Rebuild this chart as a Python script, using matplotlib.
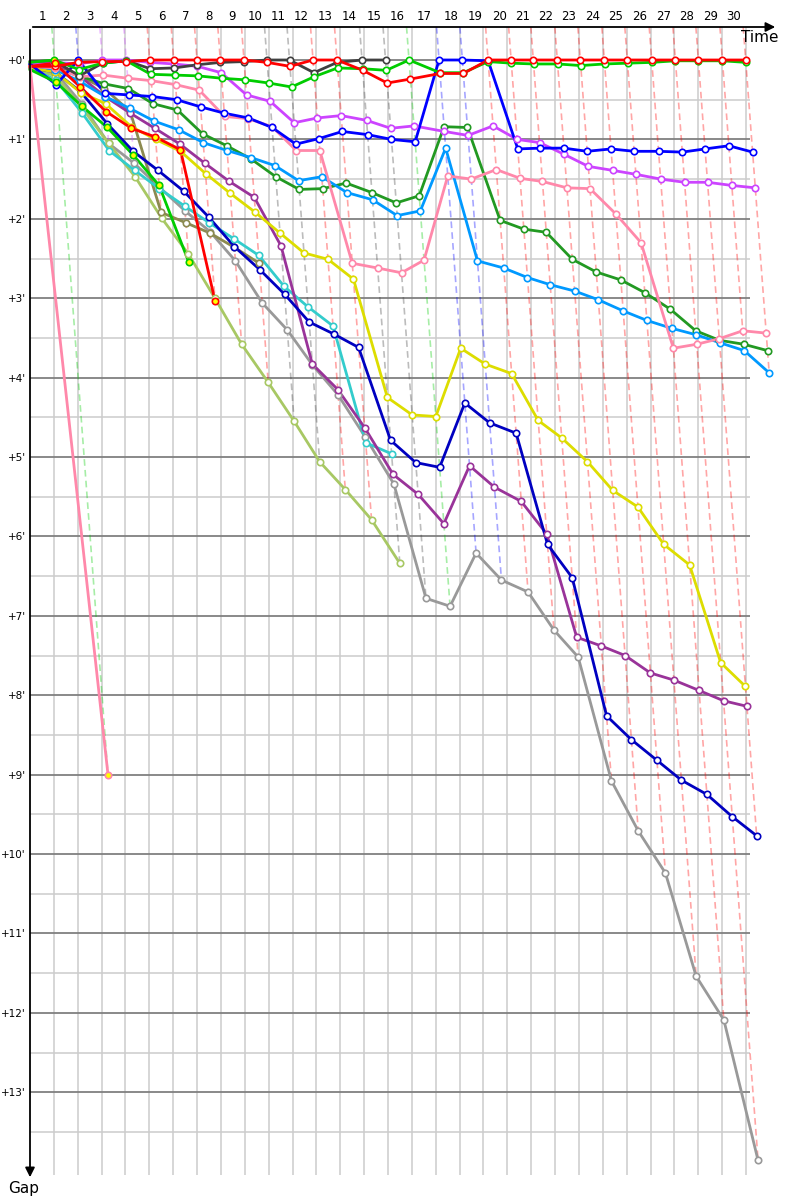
import matplotlib
matplotlib.use("Agg")
import matplotlib.pyplot as plt
import numpy as np

# leader's lap completion time (minutes), laps 1..30
lap_times = [4.07, 8.09, 12.12, 16.14, 20.06, 24.08, 27.99, 31.89, 35.86, 39.72,
             43.49, 47.43, 51.45, 55.64, 59.58, 63.52, 68.55, 72.46, 76.77, 80.63,
             84.35, 88.37, 92.23, 96.25, 100.10, 104.19, 108.16, 112.01, 116.04, 119.94]
lap_labels = [str(i) for i in range(1, 31)]

# gap to leader (minutes): index 0 = start, index k = after lap k
red = [0.08, 0.08, 0.03, 0.02, 0.02, 0, 0, 0, 0, 0, 0.03, 0.08, 0, 0, 0.13, 0.29,
       0.24, 0.17, 0.17, 0, 0, 0, 0, 0, 0, 0, 0, 0, 0, 0, 0]
green = [0.03, 0, 0.12, 0.04, 0.01, 0.18, 0.19, 0.2, 0.23, 0.25, 0.29, 0.34, 0.21,
         0.1, 0.11, 0.13, 0, 0.16, 0.16, 0.02, 0.04, 0.05, 0.05, 0.07, 0.05, 0.04,
         0.03, 0.01, 0.01, 0.01, 0.03]
black = [0.02, 0.01, 0.2, 0.04, 0.01, 0.11, 0.1, 0.06, 0.03, 0.02, 0, 0, 0.16, 0.03, 0, 0]
blue = [0.05, 0.31, 0, 0.42, 0.44, 0.46, 0.5, 0.59, 0.67, 0.73, 0.85, 1.06, 0.99, 0.9,
        0.94, 1.0, 1.03, 0, 0, 0.01, 1.12, 1.11, 1.11, 1.15, 1.12, 1.15, 1.15, 1.16,
        1.12, 1.08, 1.16]
violet = [0.05, 0.03, 0.05, 0, 0, 0.03, 0.05, 0.08, 0.16, 0.44, 0.52, 0.79, 0.73, 0.70,
          0.76, 0.86, 0.83, 0.9, 0.95, 0.83, 1.0, 1.04, 1.19, 1.34, 1.39, 1.44, 1.5,
          1.54, 1.54, 1.58, 1.61]
pink = [0.08, 0.1, 0.21, 0.19, 0.23, 0.26, 0.31, 0.38, 0.71, 0.74, 0.84, 1.14, 1.14,
        2.56, 2.62, 2.68, 2.52, 1.46, 1.5, 1.38, 1.49, 1.53, 1.61, 1.62, 1.94, 2.3,
        3.63, 3.58, 3.51, 3.41, 3.44]
sky = [0.06, 0.12, 0.27, 0.46, 0.61, 0.77, 0.88, 1.04, 1.14, 1.23, 1.33, 1.52, 1.47,
       1.67, 1.76, 1.96, 1.9, 1.11, 2.53, 2.62, 2.74, 2.83, 2.91, 3.02, 3.16, 3.28,
       3.38, 3.46, 3.56, 3.66, 3.94]
dkgreen = [0.07, 0.1, 0.2, 0.3, 0.36, 0.55, 0.63, 0.93, 1.08, 1.25, 1.47, 1.63, 1.62,
           1.55, 1.67, 1.8, 1.71, 0.84, 0.85, 2.02, 2.13, 2.17, 2.51, 2.67, 2.77, 2.93,
           3.14, 3.41, 3.53, 3.58, 3.66]
yellow = [0.1, 0.15, 0.41, 0.55, 0.84, 1.0, 1.15, 1.43, 1.68, 1.92, 2.18, 2.43, 2.51,
          2.76, 4.25, 4.47, 4.49, 3.63, 3.83, 3.95, 4.54, 4.76, 5.06, 5.42, 5.63, 6.1,
          6.36, 7.59, 7.89]
navy = [0.1, 0.15, 0.4, 0.8, 1.15, 1.39, 1.65, 1.98, 2.35, 2.64, 2.95, 3.3, 3.45, 3.62,
        4.79, 5.07, 5.13, 4.32, 4.57, 4.7, 6.1, 6.52, 8.26, 8.56, 8.82, 9.07, 9.25,
        9.53, 9.77]
purple = [0.05, 0.05, 0.2, 0.46, 0.67, 0.86, 1.06, 1.3, 1.53, 1.73, 2.34, 3.83, 4.15,
          4.63, 5.22, 5.47, 5.84, 5.11, 5.38, 5.56, 5.97, 7.27, 7.38, 7.5, 7.72, 7.81,
          7.94, 8.07, 8.14]
gray = [0.1, 0.15, 0.55, 1.05, 1.3, 1.6, 1.9, 2.16, 2.53, 3.06, 3.4, 3.84, 4.22, 4.75,
        5.34, 6.78, 6.88, 6.21, 6.55, 6.70, 7.18, 7.52, 9.08, 9.71, 10.24, 11.54,
        12.09, 13.86]
cyan = [0.1, 0.25, 0.67, 1.14, 1.39, 1.62, 1.84, 2.05, 2.25, 2.46, 2.85, 3.11, 3.35,
        4.82, 4.96]
olive = [0.1, 0.1, 0.2, 0.36, 0.65, 1.92, 2.05, 2.18, 2.36, 2.56]
lime = [0.1, 0.2, 0.6, 1.05, 1.47, 1.99, 2.44, 3.0, 3.58, 4.06, 4.55, 5.06, 5.41,
        5.79, 6.34]
green_out = [0.12, 0.28, 0.58, 0.85, 1.2, 1.58, 2.55]
red_out = [0.08, 0.04, 0.34, 0.65, 0.86, 0.97, 1.13, 3.04]
pink_out = [0.08, 9.0]

# (gaps, colour, laps drawn with a yellow-filled marker)
all_laps = list(range(1, 31))
cars = [
    (gray, "#999999", []),
    (lime, "#a8c864", []),
    (olive, "#8c8a50", []),
    (cyan, "#33cccc", []),
    (purple, "#993399", []),
    (navy, "#0000c0", []),
    (yellow, "#dddd00", []),
    (dkgreen, "#229922", []),
    (sky, "#0099ff", []),
    (pink, "#ff88aa", []),
    (violet, "#cc44ff", []),
    (blue, "#0000ff", [2]),
    (black, "#404040", []),
    (green, "#00cc00", [1]),
    (red, "#ff0000", []),
    (green_out, "#00cc00", all_laps),
    (red_out, "#ff0000", all_laps),
    (pink_out, "#ff88aa", all_laps),
]

W, H = 800, 1200
fig = plt.figure(figsize=(W / 100, H / 100), dpi=100)
ax_left, ax_right, ax_top, ax_bot = 30, 750, 27, 1175
ax = fig.add_axes([ax_left / W, 1 - ax_bot / H, (ax_right - ax_left) / W,
                   (ax_bot - ax_top) / H])
y_top = -33 / 79.4
y_bot = (ax_bot - 60) / 79.4
ax.set_xlim(0, (ax_right - ax_left) / 5.967)
ax.set_ylim(y_bot, y_top)
for s in ax.spines.values():
    s.set_visible(False)

# grid
for v in np.arange(4, 121, 4):
    ax.axvline(v, color="#cccccc", lw=1.1, zorder=0)
for g in np.arange(0.5, 14.01, 0.5):
    if g % 1 == 0:
        continue
    ax.axhline(g, color="#cccccc", lw=1.1, zorder=0)
for g in range(0, 14):
    ax.axhline(g, color="#808080", lw=1.3, zorder=0.5)

ax.set_xticks([])
ax.set_yticks(range(0, 14))
ax.set_yticklabels(["+%d'" % g for g in range(0, 14)], fontsize=7.5)
ax.tick_params(axis="y", length=0, pad=3)

# dashed lap lines, coloured by the lap leader
for k in range(1, 31):
    at_lap = [(c[0][k], c[1]) for c in cars if len(c[0]) > k]
    lead_col = min(at_lap, key=lambda t: t[0])[1]
    gmax = max(t[0] for t in at_lap)
    t = lap_times[k - 1]
    ax.plot([t + y_top, t + gmax], [y_top, gmax], color=lead_col, alpha=0.35,
            lw=1.2, ls=(0, (4, 2.5)), zorder=1, clip_on=False)

# car lines
for gaps, col, hl in cars:
    xs = [0] + [lap_times[k - 1] + gaps[k] for k in range(1, len(gaps))]
    ax.plot(xs, gaps, color=col, lw=2, zorder=3, solid_joinstyle="round", clip_on=False)
    for k in range(1, len(gaps)):
        ax.plot(xs[k], gaps[k], marker="o", ms=4.6, clip_on=False,
                mfc="#ffff00" if k in hl else "white", mec=col, mew=1.2, zorder=4)

# lap numbers above the time axis
prev = [0] + lap_times[:-1]
for a, b, lab in zip(prev, lap_times, lap_labels):
    ax.text((a + b) / 2, 1 + 10 / (ax_bot - ax_top), lab, transform=ax.get_xaxis_transform(),
            ha="center", va="center", fontsize=8.5, clip_on=False)

# axes with arrows
fig.patches.append(matplotlib.patches.FancyArrowPatch(
    (ax_left / W, 1 - ax_top / H), (778 / W, 1 - ax_top / H), transform=fig.transFigure,
    arrowstyle="-|>", mutation_scale=14, color="black", lw=1.3))
fig.patches.append(matplotlib.patches.FancyArrowPatch(
    (ax_left / W, 1 - ax_top / H), (ax_left / W, 1 - 1180 / H), transform=fig.transFigure,
    arrowstyle="-|>", mutation_scale=14, color="black", lw=1.3))
fig.text(760 / W, 1 - 37 / H, "Time", ha="center", va="center", fontsize=11)
fig.text(24 / W, 1 - 1189 / H, "Gap", ha="center", va="center", fontsize=11)

fig.savefig("out.png", dpi=100)
